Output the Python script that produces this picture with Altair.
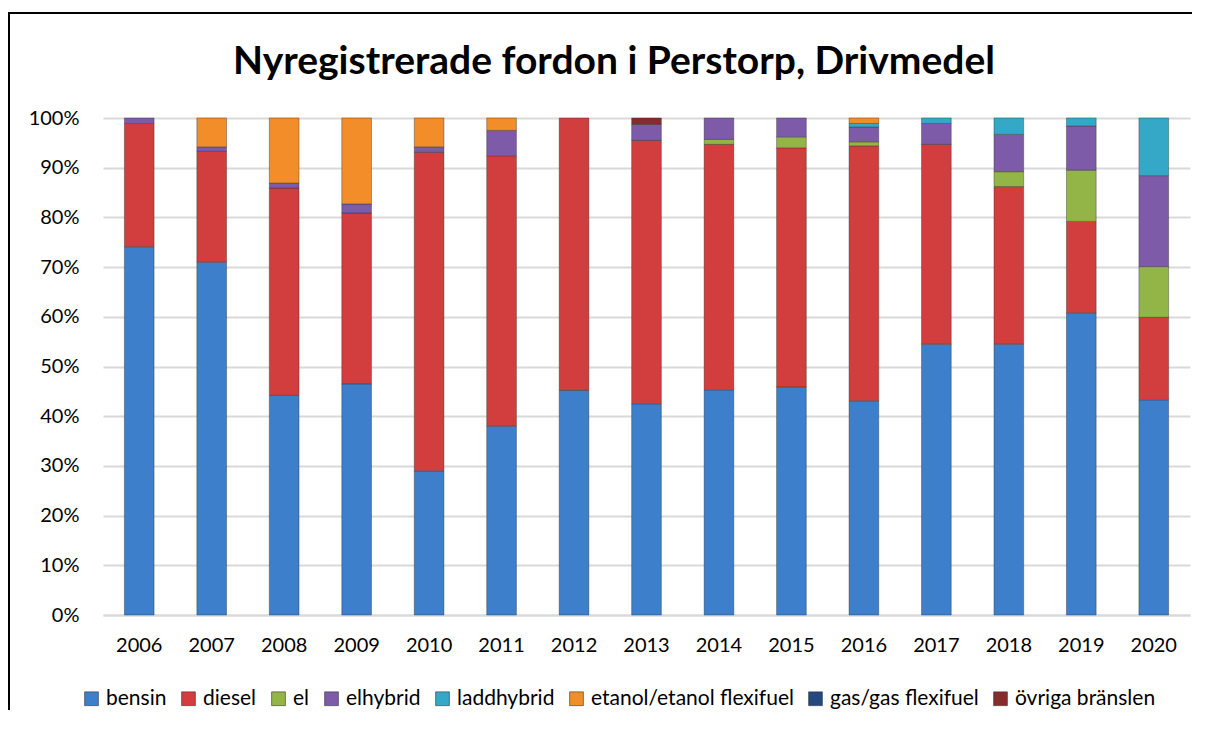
import altair as alt
import pandas as pd

years = [str(y) for y in range(2006, 2021)]
fuels = ["bensin", "diesel", "el", "elhybrid", "laddhybrid",
         "etanol/etanol flexifuel", "gas/gas flexifuel", "övriga bränslen"]
colors = ["#3D7FCB", "#D23E3E", "#93B548", "#7E5BA8", "#34A8C6",
          "#F28D2A", "#25497F", "#8A2B2B"]
title_text = "Nyregistrerade fordon i Perstorp, Drivmedel"

bensin     = [74.1, 71.0, 44.2, 46.5, 29.0, 38.0, 45.2, 42.5, 45.3, 45.9, 43.1, 54.5, 54.5, 60.8, 43.3]
diesel     = [24.8, 22.3, 41.7, 34.4, 64.1, 54.4, 54.8, 53.0, 49.4, 48.1, 51.3, 40.2, 31.7, 18.4, 16.6]
el         = [0.0, 0.0, 0.0, 0.0, 0.0, 0.0, 0.0, 0.0, 1.0, 2.2, 0.8, 0.0, 3.0, 10.3, 10.2]
elhybrid   = [1.1, 0.9, 1.0, 1.8, 1.1, 5.1, 0.0, 3.2, 4.3, 3.8, 3.0, 4.2, 7.5, 8.9, 18.3]
laddhybrid = [0.0, 0.0, 0.0, 0.0, 0.0, 0.0, 0.0, 0.0, 0.0, 0.0, 0.7, 1.1, 3.3, 1.6, 11.6]
etanol     = [0.0, 5.8, 13.1, 17.3, 5.8, 2.5, 0.0, 0.0, 0.0, 0.0, 1.1, 0.0, 0.0, 0.0, 0.0]
gas        = [0.0] * 15
ovriga     = [0.0, 0.0, 0.0, 0.0, 0.0, 0.0, 0.0, 1.3, 0.0, 0.0, 0.0, 0.0, 0.0, 0.0, 0.0]

series = [bensin, diesel, el, elhybrid, laddhybrid, etanol, gas, ovriga]
rows = []
for fi, (f, vals) in enumerate(zip(fuels, series)):
    for y, v in zip(years, vals):
        if v > 0:
            rows.append({"year": y, "fuel": f, "order": fi, "value": v / 100.0})
df = pd.DataFrame(rows)

FONT = "Lato"

bars = alt.Chart(df).mark_bar(stroke="#2a2a2a", strokeWidth=0.7, strokeOpacity=0.55).encode(
    x=alt.X("year:N", title=None, sort=years,
            scale=alt.Scale(domain=years, paddingInner=0.59, paddingOuter=0.295),
            axis=alt.Axis(labelAngle=0, labelFontSize=20, labelColor="#000000",
                          labelPadding=20, ticks=False, domain=True,
                          domainColor="#d9d9d9", domainWidth=2, grid=False)),
    y=alt.Y("value:Q", title=None, stack="zero",
            scale=alt.Scale(domain=[0, 1], nice=False),
            axis=alt.Axis(format=".0%", values=[i / 10 for i in range(11)],
                          labelFontSize=20, labelColor="#000000", labelPadding=24,
                          ticks=False, domain=False, gridColor="#d9d9d9", gridWidth=2)),
    color=alt.Color("fuel:N", sort=fuels,
                    scale=alt.Scale(domain=fuels, range=colors),
                    legend=alt.Legend(title=None, orient="none", direction="horizontal",
                                      legendX=-22, legendY=570,
                                      symbolType="square", symbolSize=190,
                                      symbolStrokeWidth=0.6, symbolStrokeColor="#333333",
                                      labelFontSize=21, labelColor="#000000",
                                      labelOffset=4, columnPadding=11, labelLimit=400)),
    order=alt.Order("order:Q", sort="ascending"),
)

title = alt.Chart(pd.DataFrame({"t": [title_text]})).mark_text(
    font=FONT, fontSize=39, fontWeight="bold", color="#000000",
    align="center", baseline="alphabetic"
).encode(text="t:N", x=alt.value(511), y=alt.value(-44))

frame = alt.Chart(pd.DataFrame({"a": [0]})).mark_rect(
    fill=None, stroke="#000000", strokeWidth=2
).encode(x=alt.value(-94), x2=alt.value(1300), y=alt.value(-105), y2=alt.value(800))

chart = alt.layer(bars, title, frame).properties(
    width=1087, height=497,
    autosize=alt.AutoSizeParams(type="none"),
    padding={"left": 95, "top": 110, "right": 2, "bottom": 95},
).configure(font=FONT).configure_view(stroke=None).configure_axis(labelFont=FONT).configure_legend(labelFont=FONT)

chart.save("out.html", embed_options={"renderer": "svg", "actions": False})
